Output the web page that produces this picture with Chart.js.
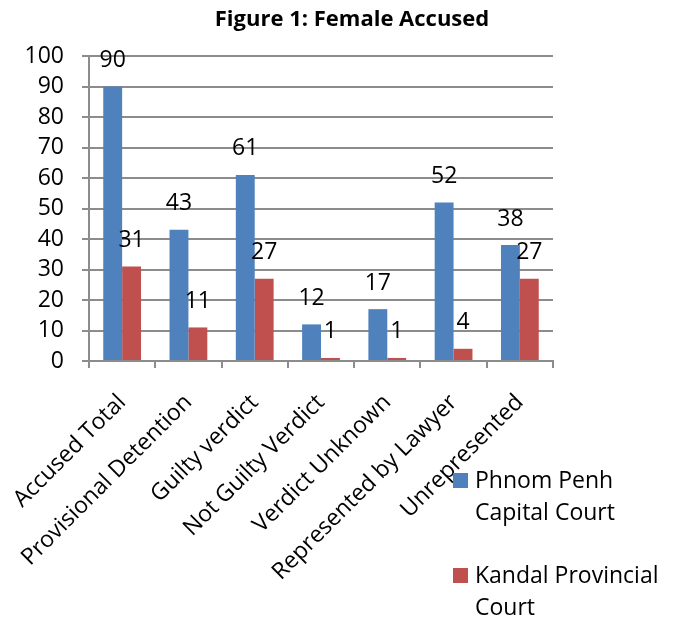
<!DOCTYPE html>
<html>
<head>
<meta charset="utf-8">
<script src="https://cdn.jsdelivr.net/npm/chart.js@4"></script>
<style>
html,body{margin:0;padding:0;background:#fff;}
#wrap{width:673px;height:617px;position:relative;}
</style>
</head>
<body>
<div id="wrap"><canvas id="c" width="673" height="617"></canvas></div>
<script>
const titleText = "Figure 1: Female Accused";
const categories = ["Accused Total","Provisional Detention","Guilty verdict","Not Guilty Verdict","Verdict Unknown","Represented by Lawyer","Unrepresented"];
const phnomPenh = [90,43,61,12,17,52,38];
const kandal = [31,11,27,1,1,4,27];
const seriesNames = ["Phnom Penh Capital Court","Kandal Provincial Court"];
const legendLines = [["Phnom Penh","Capital Court"],["Kandal Provincial","Court"]];
const yTicks = [0,10,20,30,40,50,60,70,80,90,100];

const FONT = "'Open Sans', Lato, sans-serif";

const labelPlugin = {
  id:'dataLabels',
  afterDatasetsDraw(chart){
    const ctx = chart.ctx;
    ctx.save();
    ctx.font = "23px " + FONT;
    ctx.fillStyle = "#000";
    ctx.textAlign = "center";
    ctx.textBaseline = "middle";
    chart.data.datasets.forEach((ds,i)=>{
      const meta = chart.getDatasetMeta(i);
      meta.data.forEach((el,j)=>{
        ctx.fillText(String(ds.data[j]), el.x, el.y - 26);
      });
    });
    ctx.restore();
  }
};

const titleLegendPlugin = {
  id:'titleLegend',
  afterDraw(chart){
    const ctx = chart.ctx;
    ctx.save();
    ctx.fillStyle = "#000";
    ctx.font = "bold 22px " + FONT;
    ctx.textAlign = "center";
    ctx.textBaseline = "middle";
    ctx.fillText(titleText, 352, 20);
    // legend
    ctx.font = "23px " + FONT;
    ctx.textAlign = "left";
    const tops = [473, 568];
    chart.data.datasets.forEach((ds,i)=>{
      ctx.fillStyle = ds.backgroundColor;
      ctx.fillRect(453, tops[i], 15, 15);
      ctx.fillStyle = "#000";
      legendLines[i].forEach((ln,k)=>{
        ctx.fillText(ln, 475, tops[i] + 8 + k*32);
      });
    });
    ctx.restore();
  }
};

new Chart(document.getElementById('c'), {
  type:'bar',
  data:{
    labels: categories,
    datasets:[
      {label: seriesNames[0], data: phnomPenh, backgroundColor:'#4F81BD', borderWidth:0},
      {label: seriesNames[1], data: kandal, backgroundColor:'#C0504D', borderWidth:0}
    ]
  },
  options:{
    responsive:false,
    animation:false,
    layout:{padding:{top:56,right:120,left:0,bottom:0}},
    datasets:{bar:{categoryPercentage:0.57,barPercentage:1}},
    plugins:{legend:{display:false},title:{display:false},tooltip:{enabled:false}},
    scales:{
      x:{
        offset:true,
        grid:{display:true,drawOnChartArea:false,drawTicks:true,tickLength:7,color:'#8c8c8c',lineWidth:2,offset:true},
        border:{display:true,color:'#8c8c8c',width:2},
        ticks:{font:{family:FONT,size:23},color:'#000',minRotation:45,maxRotation:45,padding:21,autoSkip:false},
        afterFit(s){ s.height = 256; s.paddingLeft = 0; s.paddingRight = 0; }
      },
      y:{
        min:0,max:100,
        afterBuildTicks(s){ s.ticks = yTicks.map(v=>({value:v})); },
        grid:{color:'#8c8c8c',lineWidth:2,tickLength:7},
        border:{display:true,color:'#8c8c8c',width:2},
        ticks:{font:{family:FONT,size:23},color:'#000',padding:18,autoSkip:false},
        afterFit(s){ s.width = 89; s.paddingTop = 0; s.paddingBottom = 0; }
      }
    }
  },
  plugins:[labelPlugin,titleLegendPlugin]
});
</script>
</body>
</html>
